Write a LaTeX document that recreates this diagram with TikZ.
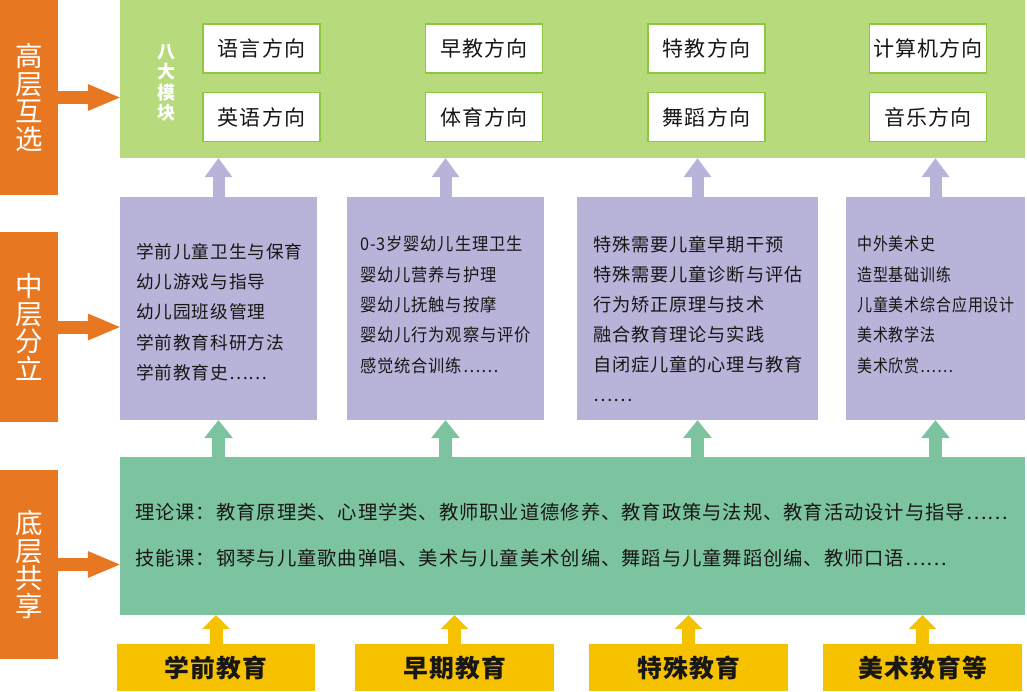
\documentclass[tikz,border=0pt]{standalone}
\usepackage{fontspec}
\setmainfont{Noto Sans CJK SC}[LetterSpace=5]
\usepackage{xcolor}
\usetikzlibrary{arrows.meta, positioning}

\definecolor{barorange}{RGB}{232,119,34}
\definecolor{topgreen}{RGB}{183,218,124}
\definecolor{boxline}{RGB}{141,198,63}
\definecolor{midpurple}{RGB}{184,179,216}
\definecolor{basegreen}{RGB}{124,196,160}
\definecolor{srcyellow}{RGB}{246,194,0}
\definecolor{ink}{RGB}{25,22,22}

\begin{document}
\begin{tikzpicture}[x=1pt, y=-1pt,
    bar/.style={rectangle, fill=barorange, minimum width=58pt, inner sep=0pt, text=white, align=center, font=\fontsize{27.5}{27.5}\selectfont},
    layer/.style={rectangle, inner sep=0pt},
    dirbox/.style={rectangle, draw=boxline, line width=1.5pt, fill=white, minimum width=117pt, minimum height=49pt, inner sep=0pt, text=ink, font=\fontsize{21}{22}\selectfont},
    modlabel/.style={text=white, align=center, inner sep=0pt, font=\bfseries\fontsize{18}{20.5}\selectfont},
    ptext/.style={anchor=north west, align=left, inner sep=0pt, text=ink},
    basetext/.style={anchor=west, inner sep=0pt, text=ink, font=\fontsize{19.3}{20}\selectfont},
    srcbox/.style={rectangle, fill=srcyellow, minimum height=47pt, inner sep=0pt, text=ink, font=\bfseries\fontsize{24.8}{26}\selectfont},
    hiarrow/.style={barorange, line width=13pt, -{Triangle[width=27pt, length=32pt, line width=0pt]}},
    uppurple/.style={midpurple, line width=12pt, -{Triangle[width=28pt, length=19pt, line width=0pt]}},
    upteal/.style={basegreen, line width=13pt, -{Triangle[width=29pt, length=18pt, line width=0pt]}},
    upyellow/.style={srcyellow, line width=13pt, -{Triangle[width=28pt, length=14pt, line width=0pt]}},
  ]
    \useasboundingbox (0,0) rectangle (1027,691);

    % Left labels
    \node[bar, minimum height=195pt] (bhigh) at (29, 97.5) {高\\层\\互\\选};
    \node[bar, minimum height=190pt] (bmid) at (29, 327) {中\\层\\分\\立};
    \node[bar, minimum height=189pt] (blow) at (29, 564.5) {底\\层\\共\\享};

    % Top layer: eight modules
    \node[layer, fill=topgreen, minimum width=905pt, minimum height=158pt] (top) at (572.5, 79) {};
    \node[modlabel] (mods) at (166, 83) {八\\大\\模\\块};
    \node[dirbox] (d1) at (261.5, 48.5) {语言方向};
    \node[dirbox] (d2) at (261.5, 117) {英语方向};
    \node[dirbox] (d3) at (484, 48.5) {早教方向};
    \node[dirbox] (d4) at (484, 117) {体育方向};
    \node[dirbox] (d5) at (706.5, 48.5) {特教方向};
    \node[dirbox] (d6) at (706.5, 117) {舞蹈方向};
    \node[dirbox] (d7) at (928, 48.5) {计算机方向};
    \node[dirbox] (d8) at (928, 117) {音乐方向};

    % Middle layer: course groups
    \node[layer, fill=midpurple, minimum width=197pt, minimum height=223pt] (p1) at (218.5, 308.5) {};
    \node[layer, fill=midpurple, minimum width=197pt, minimum height=223pt] (p2) at (445.5, 308.5) {};
    \node[layer, fill=midpurple, minimum width=241pt, minimum height=223pt] (p3) at (697.5, 308.5) {};
    \node[layer, fill=midpurple, minimum width=179pt, minimum height=223pt] (p4) at (935.5, 308.5) {};
    \node[ptext, font=\fontsize{17.7}{30.3}\selectfont] (p1t) at (136, 243) {学前儿童卫生与保育\\幼儿游戏与指导\\幼儿园班级管理\\学前教育科研方法\\学前教育史……};
    \node[ptext, font=\addfontfeatures{FakeStretch=0.93}\fontsize{17.5}{30.3}\selectfont] (p2t) at (360, 236) {0-3岁婴幼儿生理卫生\\婴幼儿营养与护理\\婴幼儿抚触与按摩\\婴幼儿行为观察与评价\\感觉统合训练……};
    \node[ptext, font=\fontsize{18.2}{30}\selectfont] (p3t) at (593, 235.5) {特殊需要儿童早期干预\\特殊需要儿童诊断与评估\\行为矫正原理与技术\\融合教育理论与实践\\自闭症儿童的心理与教育\\……};
    \node[ptext, font=\addfontfeatures{FakeStretch=0.855}\fontsize{17.5}{30.3}\selectfont] (p4t) at (857, 236) {中外美术史\\造型基础训练\\儿童美术综合应用设计\\美术教学法\\美术欣赏……};

    % Bottom layer: shared courses
    \node[layer, fill=basegreen, minimum width=905pt, minimum height=158pt] (base) at (572.5, 536) {};
    \node[basetext] (theory) at (135, 512) {理论课：教育原理类、心理学类、教师职业道德修养、教育政策与法规、教育活动设计与指导……};
    \node[basetext] (skill) at (135, 558) {技能课：钢琴与儿童歌曲弹唱、美术与儿童美术创编、舞蹈与儿童舞蹈创编、教师口语……};

    % Majors
    \node[srcbox, minimum width=198pt] (s1) at (216, 667.5) {学前教育};
    \node[srcbox, minimum width=199pt] (s2) at (454.5, 667.5) {早期教育};
    \node[srcbox, minimum width=199pt] (s3) at (688.5, 667.5) {特殊教育};
    \node[srcbox, minimum width=199pt] (s4) at (922.5, 667.5) {美术教育等};

    % Arrows
    \draw[hiarrow] (bhigh.east) -- (bhigh.east -| top.west);
    \draw[hiarrow] (bmid.east) -- (bmid.east -| p1.west);
    \draw[hiarrow] (blow.east) -- (blow.east -| base.west);

    \draw[uppurple] (p1.north) -- (p1.north |- top.south);
    \draw[uppurple] (p2.north) -- (p2.north |- top.south);
    \draw[uppurple] (p3.north) -- (p3.north |- top.south);
    \draw[uppurple] (p4.north) -- (p4.north |- top.south);

    \draw[upteal] (base.north -| p1.south) -- (p1.south);
    \draw[upteal] (base.north -| p2.south) -- (p2.south);
    \draw[upteal] (base.north -| p3.south) -- (p3.south);
    \draw[upteal] (base.north -| p4.south) -- (p4.south);

    \draw[upyellow] (s1.north) -- (s1.north |- base.south);
    \draw[upyellow] (s2.north) -- (s2.north |- base.south);
    \draw[upyellow] (s3.north) -- (s3.north |- base.south);
    \draw[upyellow] (s4.north) -- (s4.north |- base.south);

  \end{tikzpicture}
\end{document}
